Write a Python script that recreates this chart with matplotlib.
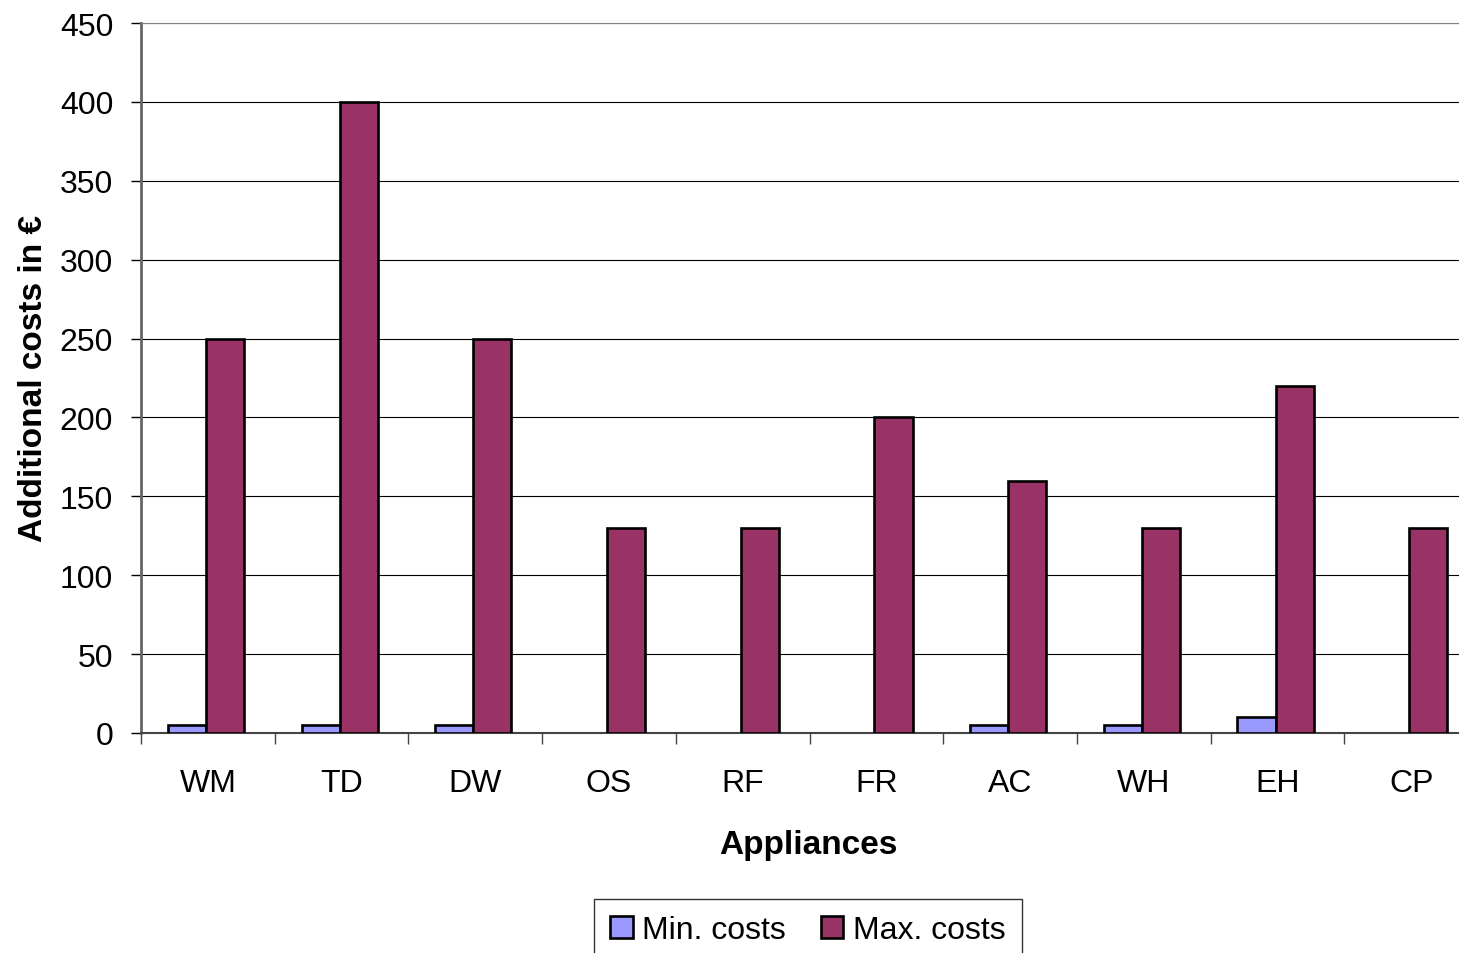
import matplotlib.pyplot as plt
import numpy as np

plt.rcParams['font.family'] = ['Liberation Sans', 'DejaVu Sans']

appliances = ['WM', 'TD', 'DW', 'OS', 'RF', 'FR', 'AC', 'WH', 'EH', 'CP']
min_costs = [5, 5, 5, 0, 0, 0, 5, 5, 10, 0]
max_costs = [250, 400, 250, 130, 130, 200, 160, 130, 220, 130]

x = np.arange(len(appliances))
w = 0.285

fig = plt.figure(figsize=(14.59, 9.54), dpi=100)
# the plot area runs past the right edge of the picture, as in the original
ax = fig.add_axes([141 / 1459, 1 - 734 / 954, 1337 / 1459, (734 - 24) / 954])

min_lw = [1.9 if v > 0 else 0 for v in min_costs]
ax.bar(x - 0.157, min_costs, w, color='#9999FF', edgecolor='black', linewidth=min_lw,
       label='Min. costs', zorder=3)
ax.bar(x + 0.128, max_costs, w, color='#993366', edgecolor='black', linewidth=1.9,
       label='Max. costs', zorder=3)

ax.set_xlim(-0.5, len(appliances) - 0.5)
ax.set_ylim(0, 450)
ax.set_yticks(np.arange(0, 451, 50))
ax.yaxis.grid(True, color='black', linewidth=0.8, zorder=0)

ax.set_xticks(x)
ax.set_xticklabels(appliances, fontsize=23)
ax.tick_params(axis='x', which='major', length=0, pad=25)
ax.set_xticks(np.arange(-0.5, len(appliances), 1.0), minor=True)
ax.tick_params(axis='x', which='minor', length=8, width=1, color='#444444', direction='out')
ax.tick_params(axis='y', labelsize=23, length=7, width=1, direction='out', pad=13)

ax.spines['right'].set_visible(False)
ax.spines['top'].set_color('#808080')
ax.spines['left'].set_color('#666666')
ax.spines['left'].set_linewidth(2)
ax.spines['bottom'].set_color('#444444')
ax.spines['bottom'].set_linewidth(1.5)

ax.set_xlabel('Appliances', fontsize=24, fontweight='bold', labelpad=18)
ax.set_ylabel('Additional costs in €', fontsize=24, fontweight='bold', labelpad=8)
ax.xaxis.set_label_coords((808 - 141) / 1337, -0.135)

leg = fig.legend(loc='upper center', bbox_to_anchor=(808 / 1459, 1 - 900 / 954), ncol=2,
                 fontsize=23, frameon=True, fancybox=False, edgecolor='black',
                 handlelength=0.7, handleheight=0.7, handletextpad=0.3, columnspacing=1.1,
                 borderpad=0.5, borderaxespad=0)
leg.get_frame().set_linewidth(1.0)

fig.savefig('out.png', dpi=100)
